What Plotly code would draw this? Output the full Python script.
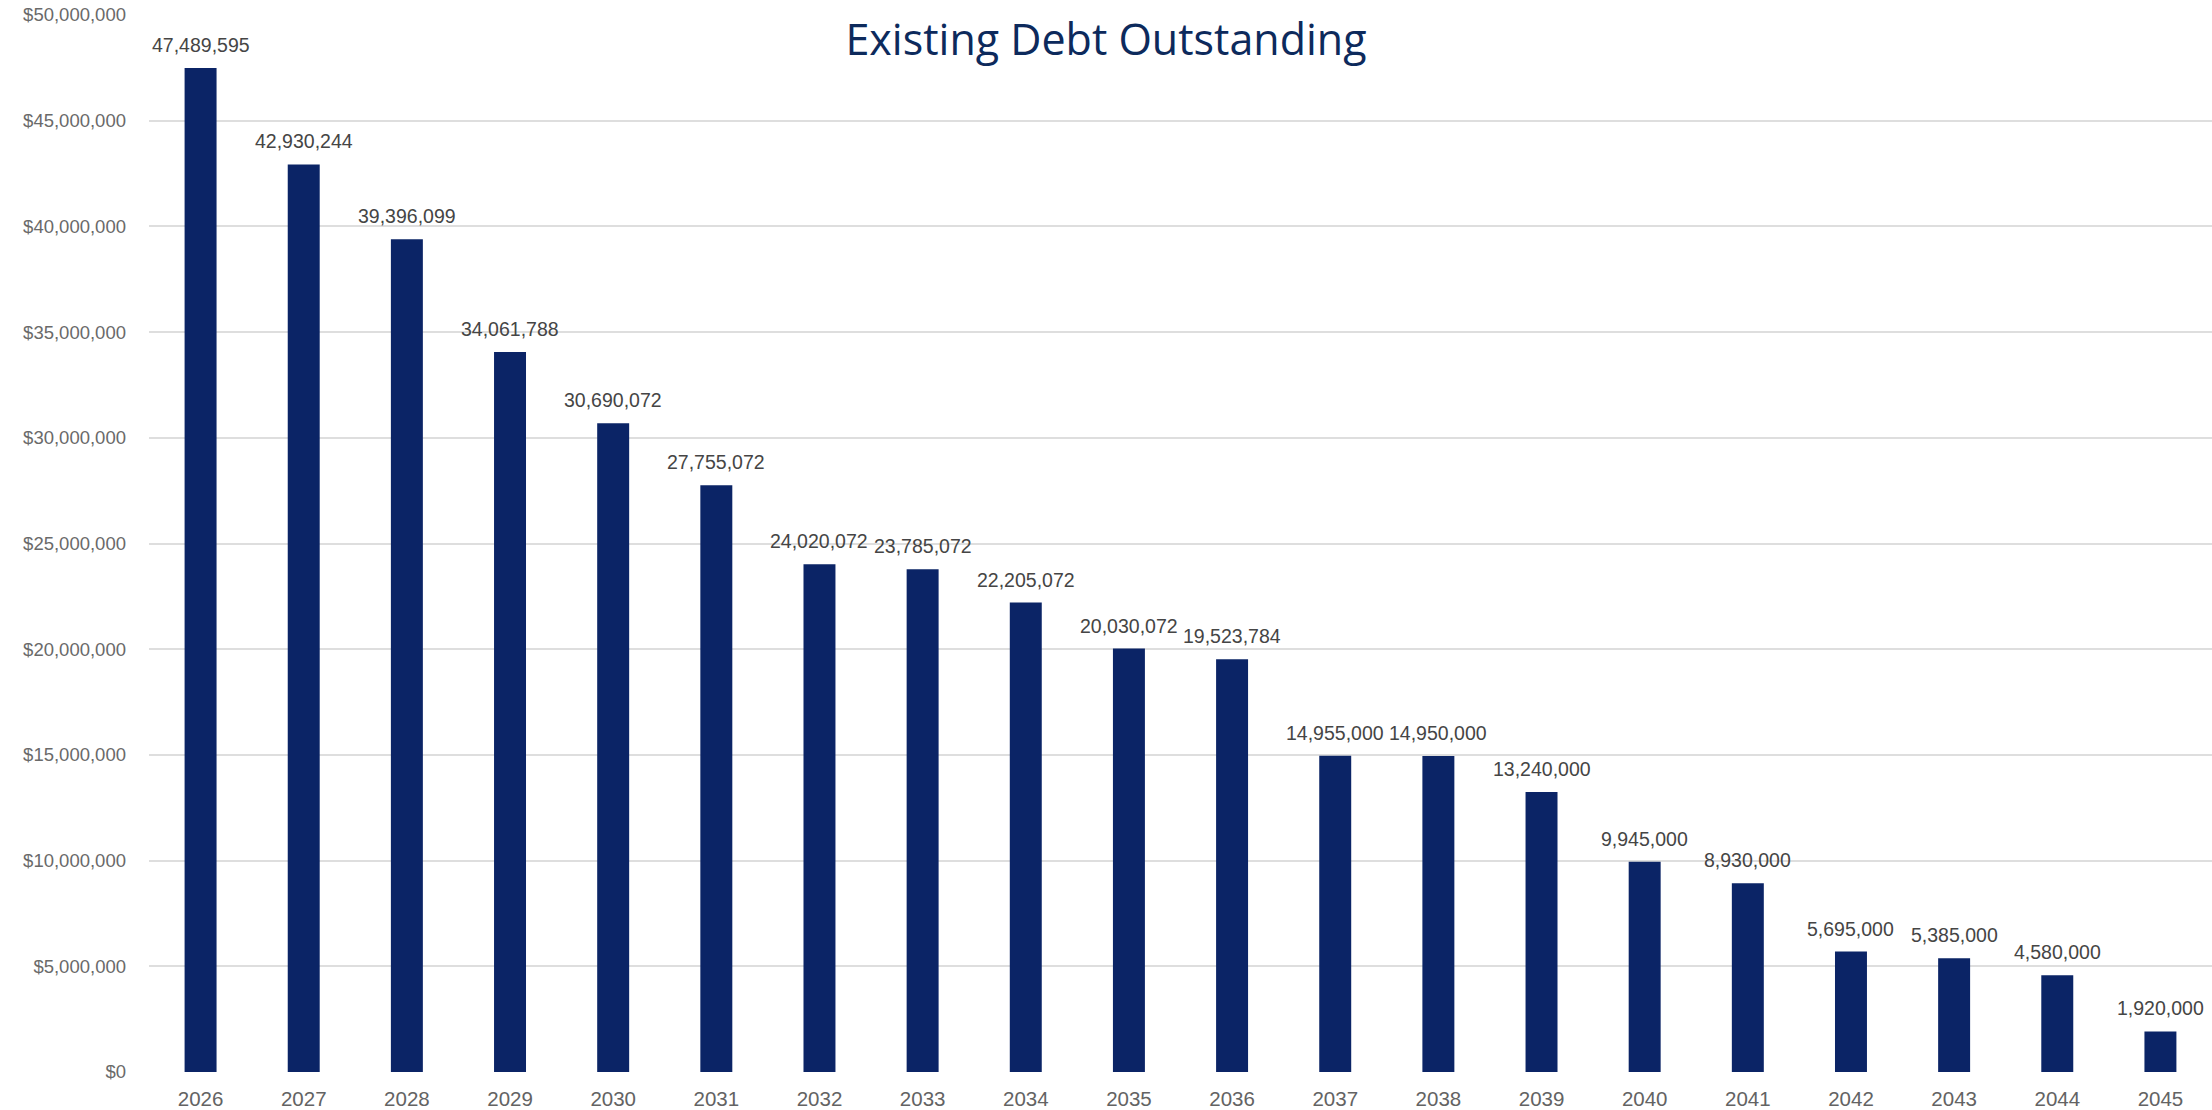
import plotly.graph_objects as go

# Fiscal years and outstanding principal at each year
years = ["2026", "2027", "2028", "2029", "2030", "2031", "2032", "2033", "2034", "2035",
         "2036", "2037", "2038", "2039", "2040", "2041", "2042", "2043", "2044", "2045"]
outstanding = [47489595, 42930244, 39396099, 34061788, 30690072, 27755072, 24020072,
               23785072, 22205072, 20030072, 19523784, 14955000, 14950000, 13240000,
               9945000, 8930000, 5695000, 5385000, 4580000, 1920000]

y_ticks = [0, 5000000, 10000000, 15000000, 20000000, 25000000,
           30000000, 35000000, 40000000, 45000000, 50000000]
y_tick_text = ["$" + f"{v:,}" for v in y_ticks]

BAR_COLOR = "#0b2466"
FONT = "Liberation Sans, Arial, sans-serif"

fig = go.Figure()
fig.add_trace(go.Bar(
    x=years,
    y=outstanding,
    marker=dict(color=BAR_COLOR, line=dict(width=0)),
    width=0.31,
    hoverinfo="x+y",
))

# value labels above each bar (x given as category index)
for i, val in enumerate(outstanding):
    fig.add_annotation(
        x=i, y=val, xref="x", yref="y", text=f"{val:,}",
        showarrow=False, yanchor="bottom", yshift=10,
        font=dict(family=FONT, size=19.5, color="#454545"),
    )

fig.update_layout(
    width=2212, height=1110,
    margin=dict(l=149, r=0, t=15, b=34),
    paper_bgcolor="white",
    plot_bgcolor="white",
    showlegend=False,
    title=dict(
        text="Existing Debt Outstanding",
        x=0.5, xanchor="center", xref="container",
        y=1 - 40 / 1110, yanchor="middle", yref="container",
        font=dict(family="Open Sans, sans-serif", size=43, color="#0d2a5c"),
    ),
    xaxis=dict(
        type="category",
        range=[-0.5, len(years) - 0.5],
        showgrid=False,
        showline=False,
        zeroline=False,
        ticks="",
        ticklabelstandoff=12,
        tickfont=dict(family=FONT, size=20.5, color="#636363"),
    ),
    yaxis=dict(
        range=[0, 50000000],
        tickvals=y_ticks,
        ticktext=y_tick_text,
        showgrid=True,
        gridcolor="#dedede",
        gridwidth=2,
        zeroline=False,
        showline=False,
        ticks="",
        ticklabelstandoff=22,
        tickfont=dict(family=FONT, size=18.5, color="#6a6a6a"),
    ),
)

fig.write_html("out.html")
